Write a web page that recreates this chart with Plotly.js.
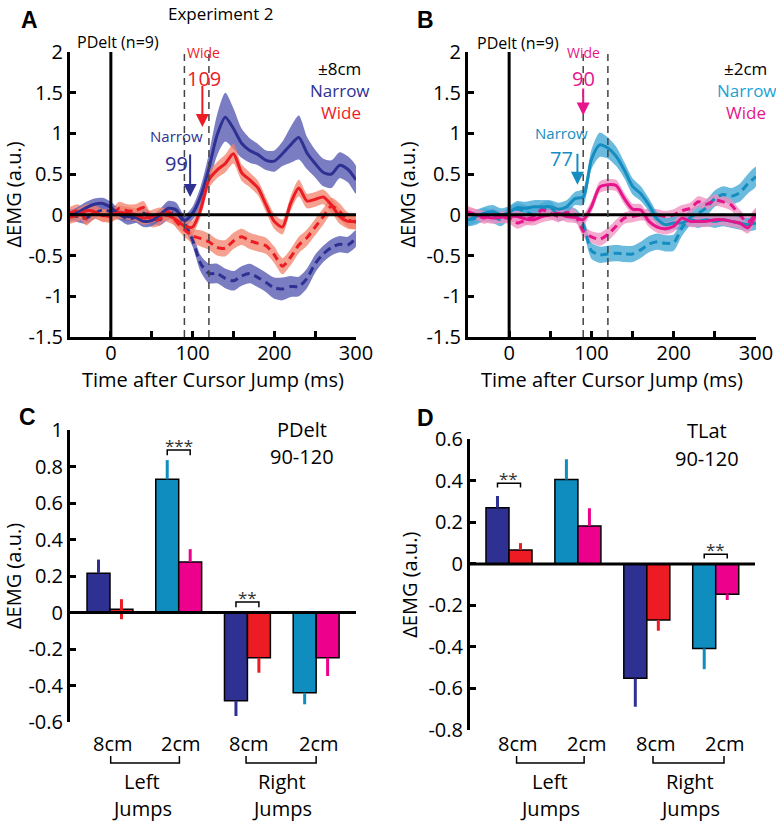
<!DOCTYPE html>
<html><head><meta charset="utf-8">
<script src="https://cdn.plot.ly/plotly-3.0.1.min.js"></script>
<style>html,body{margin:0;padding:0;background:#fff}#plot{width:776px;height:821px}</style>
</head><body><div id="plot"></div>
<script>
// ---------- DATA ----------
const T = [-50,-40,-30,-20,-10,0,10,20,30,40,50,60,70,80,90,100,110,120,130,140,150,160,170,180,190,200,210,220,230,240,250,260,270,280,290,300];
// Panel A (+-8cm) : solid = one direction, dashed = other direction
const A_narrow   = [-0.02,0.03,0.09,0.13,0.14,0.09,0.01,-0.02,-0.03,-0.08,-0.07,0.0,0.08,0.06,-0.07,0.02,0.23,0.57,0.98,1.2,1.06,0.88,0.79,0.74,0.67,0.66,0.75,0.86,0.95,0.76,0.63,0.52,0.5,0.61,0.56,0.43];
const A_narrowSE = [0.07,0.07,0.07,0.07,0.07,0.07,0.06,0.06,0.06,0.07,0.07,0.07,0.09,0.09,0.07,0.08,0.12,0.18,0.25,0.3,0.25,0.18,0.15,0.13,0.12,0.13,0.15,0.22,0.27,0.2,0.17,0.17,0.17,0.16,0.16,0.17];
const A_wide     = [-0.03,0.0,0.05,0.04,-0.01,0.0,0.03,0.02,0.0,-0.04,-0.02,0.01,-0.01,-0.06,-0.14,-0.15,0.07,0.43,0.55,0.63,0.75,0.52,0.43,0.33,0.12,-0.08,-0.15,0.14,0.33,0.17,0.19,0.22,0.12,-0.02,-0.08,-0.08];
const A_wideSE   = [0.08,0.08,0.08,0.08,0.08,0.08,0.08,0.08,0.08,0.08,0.08,0.08,0.08,0.08,0.08,0.08,0.09,0.1,0.1,0.11,0.12,0.1,0.09,0.09,0.09,0.09,0.09,0.09,0.1,0.09,0.09,0.09,0.09,0.09,0.09,0.09];
const A_narrowD  = [0.0,-0.02,-0.04,0.02,0.06,0.04,0.01,-0.05,-0.03,0.02,-0.04,-0.06,0.01,0.02,-0.1,-0.31,-0.6,-0.72,-0.72,-0.78,-0.81,-0.75,-0.72,-0.77,-0.83,-0.9,-0.91,-0.88,-0.88,-0.78,-0.6,-0.48,-0.4,-0.36,-0.37,-0.29];
const A_narrowDSE= [0.07,0.07,0.07,0.07,0.07,0.07,0.07,0.07,0.07,0.07,0.07,0.07,0.07,0.07,0.07,0.08,0.1,0.12,0.12,0.12,0.12,0.12,0.12,0.12,0.12,0.13,0.14,0.13,0.12,0.12,0.11,0.1,0.1,0.1,0.1,0.1];
const A_wideD    = [0.02,0.05,-0.05,0.03,0.0,-0.02,0.08,0.05,0.05,0.09,-0.07,-0.05,0.04,-0.08,-0.18,-0.26,-0.29,-0.33,-0.4,-0.41,-0.32,-0.27,-0.32,-0.35,-0.38,-0.49,-0.63,-0.52,-0.37,-0.28,-0.15,-0.02,0.11,0.04,-0.06,-0.09];
const A_wideDSE  = [0.08,0.08,0.08,0.08,0.08,0.08,0.08,0.08,0.08,0.08,0.08,0.08,0.08,0.08,0.09,0.09,0.1,0.1,0.1,0.1,0.1,0.1,0.1,0.1,0.1,0.1,0.1,0.1,0.1,0.1,0.1,0.1,0.1,0.1,0.09,0.09];
// Panel B (+-2cm)
const B_narrow   = [-0.06,-0.02,0.02,0.04,0.0,0.03,0.09,0.08,0.1,0.1,0.1,0.07,0.1,0.2,0.22,0.68,0.86,0.82,0.72,0.55,0.35,0.26,0.12,-0.05,-0.12,-0.1,-0.1,-0.06,-0.08,-0.06,-0.08,-0.06,-0.08,-0.1,-0.12,-0.1];
const B_narrowSE = [0.08,0.08,0.08,0.08,0.08,0.08,0.08,0.08,0.08,0.08,0.08,0.08,0.08,0.08,0.1,0.12,0.15,0.13,0.12,0.1,0.1,0.09,0.08,0.08,0.08,0.08,0.08,0.08,0.08,0.08,0.08,0.08,0.08,0.08,0.08,0.08];
const B_wide     = [0.02,0.0,-0.02,-0.04,-0.03,-0.02,-0.02,-0.05,-0.06,-0.02,0.0,0.02,-0.02,-0.03,-0.06,0.1,0.34,0.37,0.36,0.2,0.07,0.06,-0.08,-0.15,-0.17,-0.14,-0.04,-0.08,-0.08,-0.08,-0.06,-0.06,-0.08,-0.1,-0.16,0.0];
const B_wideSE   = [0.07,0.07,0.07,0.07,0.07,0.07,0.07,0.07,0.07,0.07,0.07,0.07,0.07,0.07,0.07,0.07,0.07,0.07,0.07,0.07,0.07,0.07,0.07,0.07,0.07,0.07,0.07,0.07,0.07,0.07,0.07,0.07,0.07,0.07,0.07,0.07];
const B_narrowD  = [-0.06,-0.04,0.0,-0.02,-0.06,0.02,0.07,0.04,0.0,0.07,0.09,0.0,0.03,0.0,-0.12,-0.44,-0.49,-0.48,-0.47,-0.48,-0.48,-0.43,-0.36,-0.33,-0.35,-0.34,-0.16,-0.03,0.02,0.09,0.2,0.25,0.23,0.27,0.38,0.47];
const B_narrowDSE= [0.08,0.08,0.08,0.08,0.08,0.08,0.08,0.08,0.08,0.08,0.08,0.08,0.08,0.08,0.09,0.1,0.1,0.1,0.1,0.1,0.1,0.1,0.1,0.1,0.1,0.1,0.1,0.1,0.1,0.1,0.1,0.1,0.1,0.11,0.12,0.12];
const B_wideD    = [0.04,0.0,-0.04,0.01,-0.03,-0.04,-0.1,-0.06,-0.02,0.06,0.02,-0.02,0.03,0.0,-0.2,-0.27,-0.3,-0.24,-0.14,-0.04,-0.02,0.0,0.0,0.0,-0.02,0.0,0.05,0.08,0.16,0.13,0.18,0.16,0.12,0.0,-0.09,0.02];
const B_wideDSE  = [0.07,0.07,0.07,0.07,0.07,0.07,0.07,0.07,0.07,0.07,0.07,0.07,0.07,0.07,0.07,0.07,0.08,0.08,0.08,0.07,0.07,0.07,0.07,0.07,0.07,0.07,0.07,0.07,0.07,0.07,0.07,0.07,0.07,0.07,0.07,0.07];

const lineTickVals = [-1.5,-1,-0.5,0,0.5,1,1.5,2];
const lineTickText = ['-1.5','-1','-0.5','0','0.5','1','1.5','2'];
const timeTickVals = [0,100,200,300];
const timeTickText = ['0','100','200','300'];

// Bar panels: order 8cm Left, 2cm Left, 8cm Right, 2cm Right
const barCats  = ['8cm','2cm','8cm','2cm'];
const C_narrow   = [0.215,0.73,-0.483,-0.44];
const C_narrowSE = [0.075,0.105,0.084,0.063];
const C_wide     = [0.018,0.277,-0.248,-0.248];
const C_wideSE   = [0.055,0.07,0.082,0.1];
const D_narrow   = [0.27,0.407,-0.551,-0.407];
const D_narrowSE = [0.057,0.097,0.137,0.1];
const D_wide     = [0.067,0.183,-0.27,-0.146];
const D_wideSE   = [0.033,0.085,0.052,0.028];
const C_tickVals = [-0.6,-0.4,-0.2,0,0.2,0.4,0.6,0.8,1];
const C_tickText = ['-0.6','-0.4','-0.2','0','0.2','0.4','0.6','0.8','1'];
const D_tickVals = [-0.8,-0.6,-0.4,-0.2,0,0.2,0.4,0.6];
const D_tickText = ['-0.8','-0.6','-0.4','-0.2','0','0.2','0.4','0.6'];
// significance brackets: category index, bracket height, label
const C_sig = [{cat:2, y:0.89, label:'***'}, {cat:3, y:0.057, label:'**'}];
const D_sig = [{cat:1, y:0.388, label:'**'}, {cat:4, y:0.046, label:'**'}];

// ---------- STYLE ----------
const NAVY='#2e3192', RED='#ec1c24', CYAN='#168dc0', MAG='#e6158b';
const NAVYB='rgba(100,102,185,0.85)', REDB='rgba(243,128,105,0.75)', CYANB='rgba(70,170,215,0.8)', MAGB='rgba(240,140,190,0.75)';
const BAR_NAVY='#2e3192', BAR_RED='#ed1c24', BAR_CYAN='#0f8dbf', BAR_MAG='#ec008c';
const FONT='Open Sans';
const W=776, H=821;
const px = x => x/W, py = y => 1 - y/H;

function band(xa, ya, m, se, col){
  const up = m.map((v,i)=>v+se[i]);
  const lo = m.map((v,i)=>v-se[i]);
  return {x:T.concat(T.slice().reverse()), y:up.concat(lo.slice().reverse()), xaxis:xa, yaxis:ya,
    mode:'lines', fill:'toself', fillcolor:col, line:{width:0, shape:'spline', smoothing:0.7}, hoverinfo:'skip'};
}
function mline(xa, ya, m, col, dashed){
  return {x:T, y:m, xaxis:xa, yaxis:ya, mode:'lines',
    line:{color:col, width:3, shape:'spline', smoothing:0.7, dash: dashed ? '8px,5px' : 'solid'}, hoverinfo:'skip'};
}
const traces = [
  band('x','y',A_narrowD,A_narrowDSE,NAVYB), band('x','y',A_wideD,A_wideDSE,REDB),
  band('x','y',A_narrow,A_narrowSE,NAVYB), band('x','y',A_wide,A_wideSE,REDB),
  mline('x','y',A_narrowD,NAVY,true), mline('x','y',A_wideD,RED,true),
  mline('x','y',A_narrow,NAVY,false), mline('x','y',A_wide,RED,false),
  band('x2','y2',B_narrowD,B_narrowDSE,CYANB), band('x2','y2',B_wideD,B_wideDSE,MAGB),
  band('x2','y2',B_narrow,B_narrowSE,CYANB), band('x2','y2',B_wide,B_wideSE,MAGB),
  mline('x2','y2',B_narrowD,CYAN,true), mline('x2','y2',B_wideD,MAG,true),
  mline('x2','y2',B_narrow,CYAN,false), mline('x2','y2',B_wide,MAG,false)
];
const BW = 0.334;
function barTrace(xa, ya, vals, se, idxs, col, offset){
  const v = idxs.map(i=>vals[i]), s = idxs.map(i=>se[i]);
  return {type:'bar', x:idxs.map(i=>i+1), y:v, xaxis:xa, yaxis:ya, width:BW, offset:offset,
    marker:{color:col, line:{color:'#000', width:1.5}},
    error_y:{type:'data', symmetric:false,
      array:v.map((a,k)=> a>=0 ? s[k] : 0),
      arrayminus:v.map((a,k)=> a<0 ? s[k] : (s[k]>a ? s[k] : 0)),
      color:col, thickness:3, width:0},
    hoverinfo:'skip'};
}
traces.push(
  barTrace('x3','y3',C_narrow,C_narrowSE,[0,2],BAR_NAVY,-BW), barTrace('x3','y3',C_wide,C_wideSE,[0,2],BAR_RED,0),
  barTrace('x3','y3',C_narrow,C_narrowSE,[1,3],BAR_CYAN,-BW), barTrace('x3','y3',C_wide,C_wideSE,[1,3],BAR_MAG,0),
  barTrace('x4','y4',D_narrow,D_narrowSE,[0,2],BAR_NAVY,-BW), barTrace('x4','y4',D_wide,D_wideSE,[0,2],BAR_RED,0),
  barTrace('x4','y4',D_narrow,D_narrowSE,[1,3],BAR_CYAN,-BW), barTrace('x4','y4',D_wide,D_wideSE,[1,3],BAR_MAG,0)
);

// ---------- AXES ----------
const tickFont = {family:FONT, size:20, color:'#000'};
function timeX(domain, anchor){
  return {domain, anchor, range:[-50,300], showline:true, linewidth:3, linecolor:'#000', mirror:false,
    ticks:'inside', ticklen:6, tickwidth:3, tickcolor:'#000', tickvals:timeTickVals, ticktext:timeTickText,
    ticklabelstandoff:-4,
    minor:{ticks:'inside', ticklen:6, tickwidth:3, tickcolor:'#000', tickvals:[-50,50,150,250], showgrid:false},
    showgrid:false, zeroline:false, tickfont:tickFont, fixedrange:true,
    title:{text:'Time after Cursor Jump (ms)', font:{family:FONT, size:20, color:'#000'}, standoff:0}};
}
function valY(domain, anchor, range, tv, tt){
  return {domain, anchor, range, showline:true, linewidth:3, linecolor:'#000',
    ticks:'inside', ticklen:6, tickwidth:3, tickcolor:'#000', tickvals:tv, ticktext:tt,
    showgrid:false, zeroline:false, tickfont:tickFont, fixedrange:true,
    title:{text:'ΔEMG (a.u.)', font:{family:FONT, size:20, color:'#000'}, standoff:6}};
}
function barX(domain, anchor, range){
  return {domain, anchor, range, visible:false, fixedrange:true};
}
const layout = {
  width:W, height:H, margin:{l:0,r:0,t:0,b:0}, paper_bgcolor:'#fff', plot_bgcolor:'rgba(0,0,0,0)',
  showlegend:false, font:{family:FONT, color:'#000'}, barmode:'overlay',
  xaxis: timeX([px(70),px(356)],'y'),
  yaxis: valY([py(337),py(52)],'x',[-1.5,2],lineTickVals,lineTickText),
  xaxis2: timeX([px(468),px(756)],'y2'),
  yaxis2: valY([py(337),py(52)],'x2',[-1.5,2],lineTickVals,lineTickText),
  xaxis3: barX([px(70),px(356)],'y3',[0.418,4.58]),
  yaxis3: valY([py(722),py(430)],'x3',[-0.6,1],C_tickVals,C_tickText),
  xaxis4: barX([px(470),px(755)],'y4',[0.434,4.57]),
  yaxis4: valY([py(730),py(439.3)],'x4',[-0.8,0.6],D_tickVals,D_tickText),
  shapes:[], annotations:[]
};
const S = layout.shapes, A = layout.annotations;
const C0 = {xanchor:'center', yanchor:'middle', showarrow:false};
// zero lines and event lines
[['x','y'],['x2','y2']].forEach(([xa,ya])=>{
  S.push({type:'line', xref:xa+' domain', x0:0, x1:1, yref:ya, y0:0, y1:0, line:{color:'#000', width:3}, layer:'above'});
  S.push({type:'line', xref:xa, x0:0, x1:0, yref:ya+' domain', y0:0, y1:1, line:{color:'#000', width:3}, layer:'above'});
  [90,120].forEach(t=>S.push({type:'line', xref:xa, x0:t, x1:t, yref:ya+' domain', y0:0, y1:1, line:{color:'#444', width:1.5, dash:'7px,5px'}, layer:'above'}));
});
[['x3','y3'],['x4','y4']].forEach(([xa,ya])=>{
  S.push({type:'line', xref:xa+' domain', x0:0, x1:1, yref:ya, y0:0, y1:0, line:{color:'#000', width:3}, layer:'above'});
});
// significance brackets
function sig(list, xa, ya, tickDrop){
  list.forEach(s=>{
    const x0 = s.cat - BW/2, x1 = s.cat + BW/2, yb = s.y - tickDrop;
    S.push({type:'path', xref:xa, yref:ya, path:`M ${x0} ${yb} L ${x0} ${s.y} L ${x1} ${s.y} L ${x1} ${yb}`, line:{color:'#000', width:1.5}});
    A.push(Object.assign({}, C0, {text:s.label, xref:xa, yref:ya, x:s.cat, y:s.y, yanchor:'bottom', yshift:-9, font:{family:FONT, size:17, color:'#333'}}));
  });
}
sig(C_sig,'x3','y3',0.028);
sig(D_sig,'x4','y4',0.02);
// category labels & grouping brackets
function cats(xa, xs, lx, rx, bl, br){
  barCats.forEach((c,i)=>A.push(Object.assign({}, C0, {text:c, xref:xa, yref:'paper', x:xs[i], y:py(743), font:{family:FONT, size:20}})));
  [[bl[0],bl[1]],[br[0],br[1]]].forEach(([a,b])=>S.push({type:'path', xref:xa, yref:'paper',
    path:`M ${a} ${py(756)} L ${a} ${py(763)} L ${b} ${py(763)} L ${b} ${py(756)}`, line:{color:'#000', width:1.5}}));
  A.push(Object.assign({}, C0, {text:'Left', xref:xa, yref:'paper', x:lx, y:py(781), font:{family:FONT, size:20}}));
  A.push(Object.assign({}, C0, {text:'Jumps', xref:xa, yref:'paper', x:lx, y:py(808), font:{family:FONT, size:20}}));
  A.push(Object.assign({}, C0, {text:'Right', xref:xa, yref:'paper', x:rx, y:py(781), font:{family:FONT, size:20}}));
  A.push(Object.assign({}, C0, {text:'Jumps', xref:xa, yref:'paper', x:rx, y:py(808), font:{family:FONT, size:20}}));
}
cats('x3',[1.04,2.04,3.03,4.04],1.47,3.51,[1.01,2.01],[2.98,4.0]);
cats('x4',[1.13,2.13,3.14,4.14],1.6,3.63,[1.11,2.09],[3.09,4.12]);

function txt(t,x,y,size,col){ A.push(Object.assign({}, C0, {text:t, xref:'paper', yref:'paper', x:px(x), y:py(y), font:{family:FONT, size:size, color:col||'#000'}})); }
const bold = {family:'Liberation Sans', size:23, color:'#000'};
[['A',29,20],['B',425,20],['C',28,417],['D',425,418]].forEach(([l,x,y])=>
  A.push(Object.assign({}, C0, {text:'<b>'+l+'</b>', xref:'paper', yref:'paper', x:px(x), y:py(y), font:bold})));
txt('Experiment 2',220,14,17);
txt('PDelt (n=9)',118,42,16);
txt('PDelt (n=9)',518,43,16);
txt('Wide',203,52,14,RED);
txt('109',204,78,20,RED);
txt('Narrow',176,136,15,NAVY);
txt('99',176,163,20,NAVY);
txt('±8cm',339,68,17);
txt('Narrow',340,90,17,NAVY);
txt('Wide',341,113,17,RED);
txt('Wide',583,52,14,MAG);
txt('90',583,78,20,MAG);
txt('Narrow',561,133,15,CYAN);
txt('77',561,159,20,CYAN);
txt('±2cm',745,68,17);
txt('Narrow',747,90,17,'#1aa3d6');
txt('Wide',746,113,17,MAG);
txt('PDelt',302,429,20);
txt('90-120',302,457,20);
txt('TLat',707,430,20);
txt('90-120',707,458,20);
// onset arrows
function arrow(xa,ya,x,y,ay,col){
  A.push({text:'', xref:xa, yref:ya, x:x, y:y, axref:xa, ayref:ya, ax:x, ay:ay, showarrow:true,
    arrowhead:2, arrowsize:1.3, arrowwidth:2, arrowcolor:col});
}
arrow('x','y',112,1.08,1.6,RED);
arrow('x','y',97,0.22,0.76,NAVY);
arrow('x2','y2',90,1.22,1.57,MAG);
arrow('x2','y2',83,0.37,0.77,CYAN);

Plotly.newPlot('plot', traces, layout, {staticPlot:true, displayModeBar:false});
</script></body></html>
